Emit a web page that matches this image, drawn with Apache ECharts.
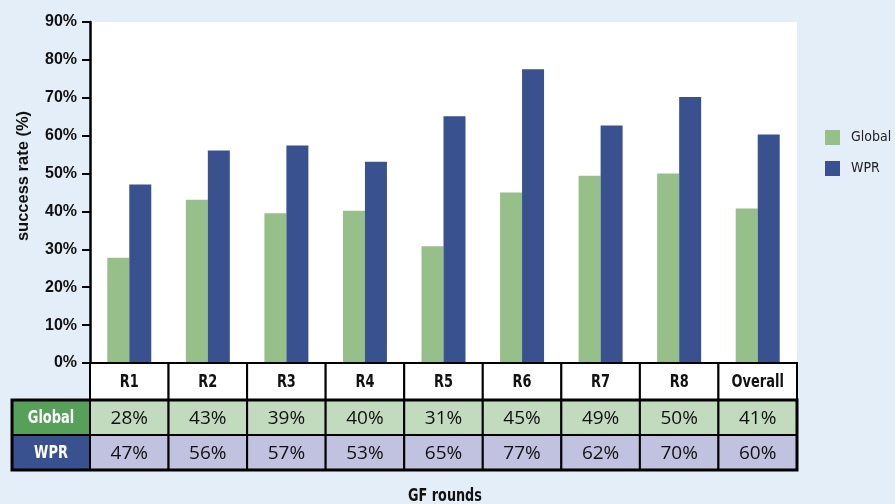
<!DOCTYPE html>
<html>
<head>
<meta charset="utf-8">
<script src="https://cdn.jsdelivr.net/npm/echarts@6/dist/echarts.min.js"></script>
<style>
html,body{margin:0;padding:0;background:#e4eef8;}
#main{width:895px;height:504px;}
</style>
</head>
<body>
<div id="main"></div>
<script>
var rounds = ['R1', 'R2', 'R3', 'R4', 'R5', 'R6', 'R7', 'R8', 'Overall'];
var globalRate = [27.8, 43.1, 39.5, 40.2, 30.8, 45.0, 49.4, 50.0, 40.8];
var wprRate = [47.1, 56.1, 57.4, 53.1, 65.1, 77.5, 62.7, 70.2, 60.3];
var globalLabels = ['28%', '43%', '39%', '40%', '31%', '45%', '49%', '50%', '41%'];
var wprLabels = ['47%', '56%', '57%', '53%', '65%', '77%', '62%', '70%', '60%'];

var NARROW = '"Liberation Sans Narrow", "DejaVu Sans Condensed", sans-serif';
var WIDE = '"Liberation Sans", Arial, sans-serif';
var green = '#97bf8a', blue = '#3a5190';

var chart = echarts.init(document.getElementById('main'));

// table geometry (below the plot)
var left = 90, right = 797, labelLeft = 12;
var colW = (right - left) / rounds.length;
var rowHead = [363, 400], rowG = [400, 435], rowW = [435, 470];

var g = [];
function cell(x0, y0, w, h, fill, lw) {
    g.push({type: 'rect', shape: {x: x0, y: y0, width: w, height: h},
        style: {fill: fill, stroke: '#000', lineWidth: lw || 2}, z: 10});
}
// text drawn with optional horizontal squeeze (condensed look)
function txt(x, y, s, fill, font, sx) {
    g.push({type: 'text', x: x, y: y, scaleX: sx || 1,
        style: {x: 0, y: 0, text: s, fill: fill, align: 'center', verticalAlign: 'middle', font: font}, z: 12});
}
var headFont = 'bold 18px ' + NARROW;
var valFont = '19px "Open Sans", "Noto Sans", sans-serif';
rounds.forEach(function (r, i) {
    var cx = left + i * colW + colW / 2;
    cell(left + i * colW, rowHead[0], colW, rowHead[1] - rowHead[0], '#fff');
    txt(cx, (rowHead[0] + rowHead[1]) / 2 + 1, r, '#111', headFont, 0.8);
    cell(left + i * colW, rowG[0], colW, rowG[1] - rowG[0], '#c2dbbf');
    txt(cx, (rowG[0] + rowG[1]) / 2 + 1, globalLabels[i], '#111', valFont);
    cell(left + i * colW, rowW[0], colW, rowW[1] - rowW[0], '#c0c2df');
    txt(cx, (rowW[0] + rowW[1]) / 2 + 1, wprLabels[i], '#111', valFont);
});
cell(labelLeft, rowG[0], left - labelLeft, rowG[1] - rowG[0], '#57a05a');
txt((labelLeft + left) / 2, (rowG[0] + rowG[1]) / 2 + 1, 'Global', '#fff', headFont, 0.8);
cell(labelLeft, rowW[0], left - labelLeft, rowW[1] - rowW[0], blue);
txt((labelLeft + left) / 2, (rowW[0] + rowW[1]) / 2 + 1, 'WPR', '#fff', headFont, 0.8);
// thick outline around the value rows
g.push({type: 'rect', shape: {x: labelLeft, y: rowG[0], width: right - labelLeft, height: rowW[1] - rowG[0]},
    style: {fill: null, stroke: '#000', lineWidth: 3}, z: 13});
// axis titles
g.push({type: 'text', x: 23, y: 176, rotation: Math.PI / 2,
    style: {text: 'success rate (%)', fill: '#111', align: 'center', verticalAlign: 'middle',
        font: 'bold 16.5px ' + WIDE}, z: 12});
txt(445, 496, 'GF rounds', '#111', 'bold 18px ' + NARROW, 0.79);

var option = {
    backgroundColor: '#e4eef8',
    animation: false,
    grid: {left: left, right: 895 - right, top: 22, bottom: 504 - 363, backgroundColor: '#fff', show: true, borderWidth: 0},
    legend: {
        orient: 'vertical', left: 820, top: 125, itemWidth: 15, itemHeight: 15, itemGap: 16,
        icon: 'rect',
        data: ['Global', 'WPR'],
        textStyle: {color: '#222', fontSize: 14, fontFamily: NARROW, padding: [0, 0, 0, 6]}
    },
    xAxis: {
        type: 'category', data: rounds,
        axisLine: {show: false}, axisTick: {show: false}, axisLabel: {show: false}
    },
    yAxis: {
        type: 'value', min: 0, max: 90, interval: 10,
        axisLine: {show: true, lineStyle: {color: '#000', width: 2.5}},
        axisTick: {show: true, length: 8, lineStyle: {color: '#000', width: 2}},
        splitLine: {show: false},
        axisLabel: {formatter: '{value}%', color: '#111', fontSize: 16, fontWeight: 'bold', fontFamily: WIDE, margin: 13}
    },
    series: [
        {name: 'Global', type: 'bar', data: globalRate, barGap: 0, barCategoryGap: '44%', itemStyle: {color: green}},
        {name: 'WPR', type: 'bar', data: wprRate, itemStyle: {color: blue}}
    ],
    graphic: g
};
chart.setOption(option);
</script>
</body>
</html>
